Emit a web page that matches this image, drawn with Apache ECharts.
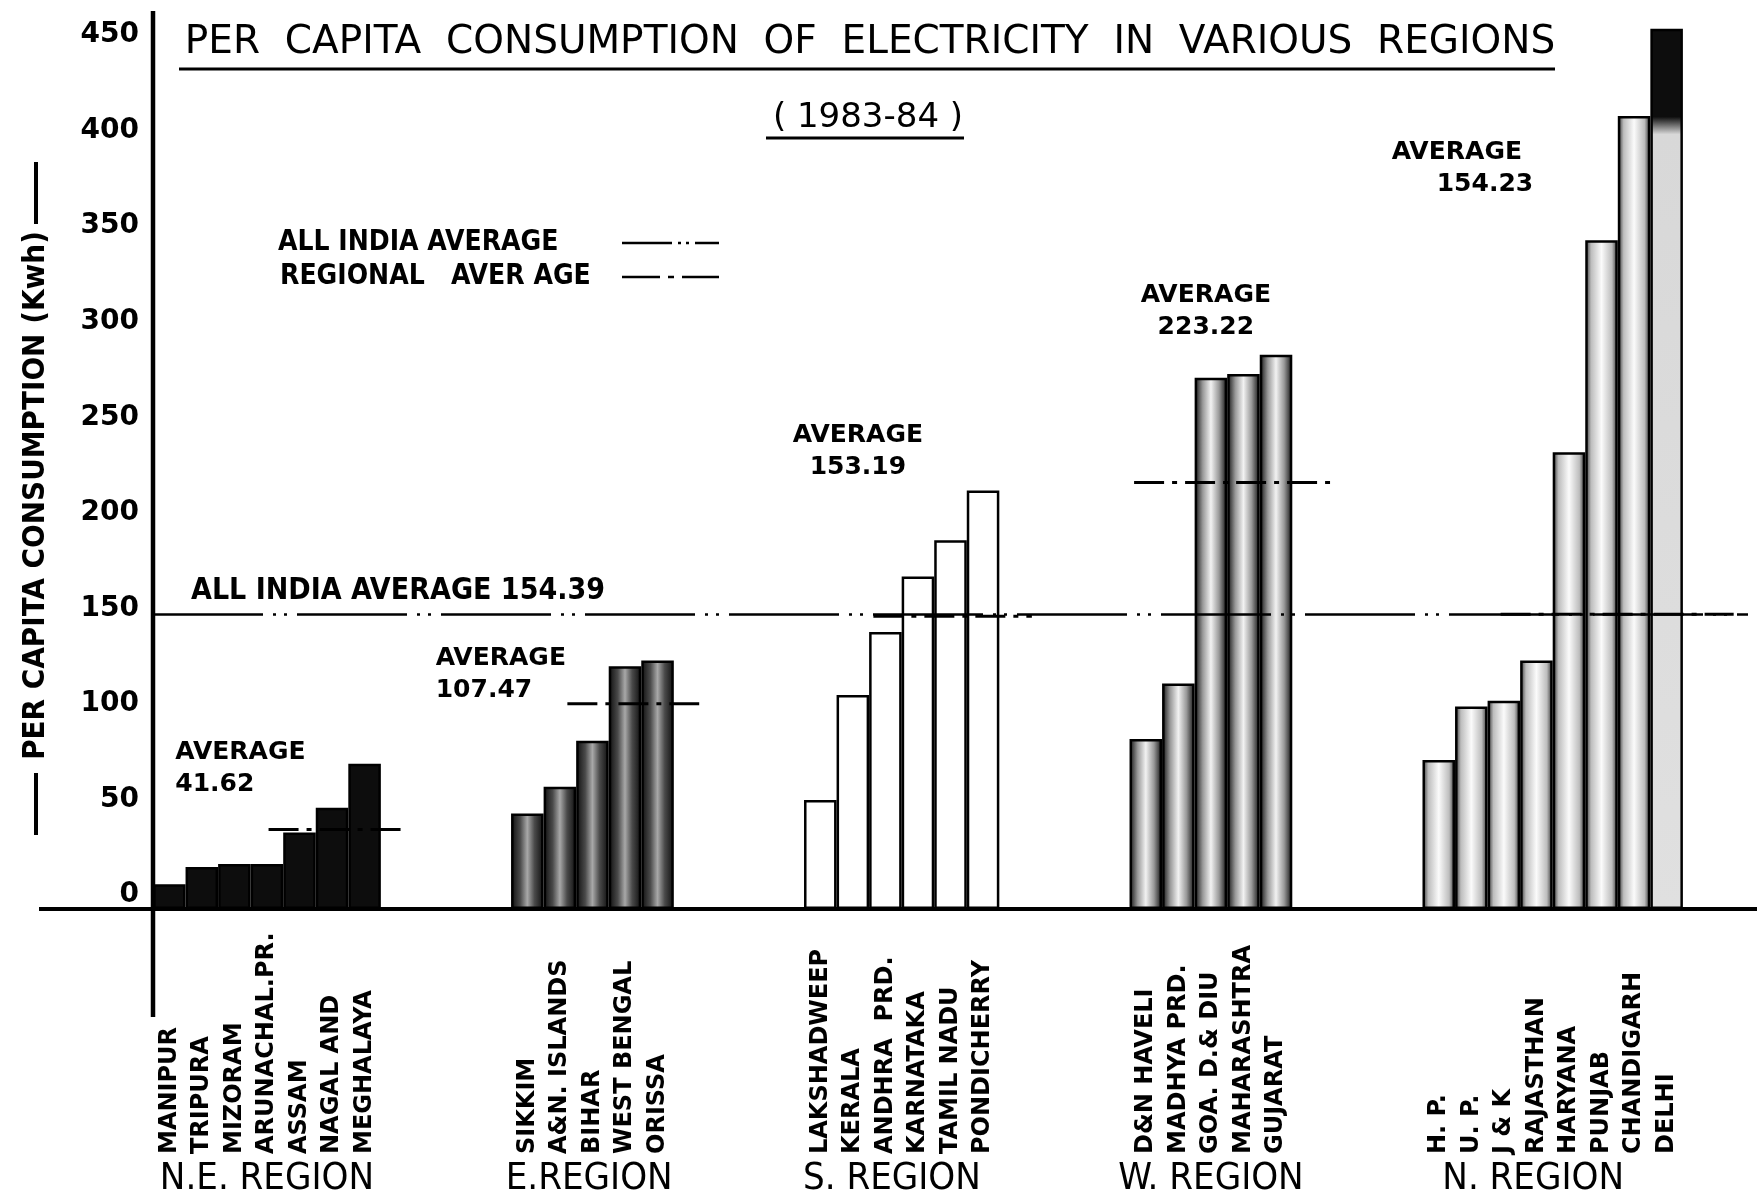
<!DOCTYPE html>
<html>
<head>
<meta charset="utf-8">
<title>Per capita consumption of electricity 1983-84</title>
<script src="https://cdn.jsdelivr.net/npm/echarts@6/dist/echarts.min.js"></script>
<style>
  html, body { margin: 0; padding: 0; background: #fff; }
  #main { width: 1757px; height: 1201px; }
</style>
</head>
<body>
<div id="main"></div>
<script>
// kWh per head
const neStates = ['MANIPUR', 'TRIPURA', 'MIZORAM', 'ARUNACHAL.PR.', 'ASSAM', 'NAGAL AND', 'MEGHALAYA'];
const neValues = [13, 22, 23.5, 23.5, 40, 53, 76];
const eStates = ['SIKKIM', 'A&N. ISLANDS', 'BIHAR', 'WEST BENGAL', 'ORISSA'];
const eValues = [50, 64, 88, 127, 130];
const sStates = ['LAKSHADWEEP', 'KERALA', 'ANDHRA  PRD.', 'KARNATAKA', 'TAMIL NADU', 'PONDICHERRY'];
const sValues = [57, 112, 145, 174, 193, 219];
const wStates = ['D&N HAVELI', 'MADHYA PRD.', 'GOA. D.& DIU', 'MAHARASHTRA', 'GUJARAT'];
const wValues = [89, 118, 278, 280, 290];
const nStates = ['H. P.', 'U. P.', 'J & K', 'RAJASTHAN', 'HARYANA', 'PUNJAB', 'CHANDIGARH', 'DELHI'];
const nValues = [78, 106, 109, 130, 239, 350, 415, 461];

const regionNames = ['N.E. REGION', 'E.REGION', 'S. REGION', 'W. REGION', 'N. REGION'];
const regionAverages = [41.62, 107.47, 153.19, 223.22, 154.23];
const allIndiaAverage = 154.39;

const yTickStep = 50;
const yMax = 460;

const SANS = "'DejaVu Sans', 'Liberation Sans', sans-serif";
const NARROW = "'Liberation Sans Narrow', 'DejaVu Sans Condensed', 'DejaVu Sans', sans-serif";

// layout: empty slots between regions, where the regional average dashes start / stop
const GAP = 4;
const avgSpan = [[3.55, 0.75], [1.73, 0.78], [2.13, 1.0], [0.14, 1.16], [2.4, 1.56]];
// average text anchor: slot offset from first bar, top value, alignment
const avgTextAt = [[0.2, 90, 'left'], [-2.8, 139, 'left'], [1.17, 256, 'center'], [1.86, 329, 'center'], [-1.43, 404, 'left']];
const regionNameShift = [0, -0.1, -0.3, 0, -0.6];

const allIndiaDash = [110, 10, 3, 8, 3, 10];
const regionalDash = [30, 8, 5, 8];

const groups = [[neStates, neValues], [eStates, eValues], [sStates, sValues], [wStates, wValues], [nStates, nValues]];
const categories = [], barValues = [], regionOf = [], regionStart = [], regionEnd = [];
let gapNo = 0;
function pushGap(n) {
  for (let k = 0; k < n; k++) {
    categories.push('_' + (gapNo++));
    barValues.push(null);
    regionOf.push(-1);
  }
}
groups.forEach(function (grp, r) {
  if (r > 0) pushGap(GAP);
  regionStart.push(categories.length);
  grp[0].forEach(function (name, i) {
    categories.push(name);
    barValues.push(grp[1][i]);
    regionOf.push(r);
  });
  regionEnd.push(categories.length - 1);
});
pushGap(2);
const N = categories.length;

function hGrad(stops) {
  return new echarts.graphic.LinearGradient(0, 0, 1, 0, stops.map(s => ({ offset: s[0], color: s[1] })));
}
const regionFill = [
  '#0d0d0d',
  hGrad([[0, '#0d0d0d'], [0.28, '#4a4a4a'], [0.5, '#a8a8a8'], [0.72, '#4a4a4a'], [1, '#0d0d0d']]),
  '#ffffff',
  hGrad([[0, '#0d0d0d'], [0.25, '#999'], [0.5, '#f2f2f2'], [0.75, '#999'], [1, '#0d0d0d']]),
  hGrad([[0, '#2a2a2a'], [0.18, '#bdbdbd'], [0.5, '#fbfbfb'], [0.82, '#bdbdbd'], [1, '#2a2a2a']])
];
const delhiFill = new echarts.graphic.LinearGradient(0, 0, 0, 1, [
  { offset: 0, color: '#0d0d0d' }, { offset: 0.1, color: '#0d0d0d' },
  { offset: 0.12, color: '#d8d8d8' }, { offset: 1, color: '#e0e0e0' }
]);

const barData = barValues.map(function (v, i) {
  if (v === null) return '-';
  return {
    value: v,
    itemStyle: {
      color: categories[i] === 'DELHI' ? delhiFill : regionFill[regionOf[i]],
      borderColor: '#000',
      borderWidth: 2.5
    }
  };
});

const avgLineSeries = regionAverages.map(function (avg, r) {
  return {
    type: 'line',
    name: 'REGIONAL AVERAGE',
    xAxisIndex: 1,
    symbol: 'none',
    silent: true,
    z: 5,
    lineStyle: { color: '#000', width: 3, type: regionalDash },
    data: [[regionStart[r] - 0.5 + avgSpan[r][0], avg], [regionEnd[r] + 0.5 + avgSpan[r][1], avg]]
  };
});

const avgTextData = regionAverages.map(function (avg, r) {
  const at = avgTextAt[r];
  const txt = r === 4 ? '{a|AVERAGE}\n{b|' + avg.toFixed(2) + '}' : '{a|AVERAGE}\n{a|' + avg.toFixed(2) + '}';
  return {
    value: [regionStart[r] + at[0], at[1]],
    label: { align: at[2], formatter: txt }
  };
});

const chart = echarts.init(document.getElementById('main'));

const textBase = { color: '#000', textBorderWidth: 0, opacity: 1 };

const option = {
  animation: false,
  backgroundColor: '#fff',
  grid: { left: 153, right: 9, top: 30, bottom: 292, outerBoundsMode: 'none' },
  xAxis: [{
    type: 'category',
    data: categories,
    axisLine: { show: false },
    axisTick: { show: false },
    axisLabel: {
      interval: 0,
      rotate: 90,
      align: 'left',
      verticalAlign: 'middle',
      margin: 245,
      fontSize: 24,
      fontWeight: 'bold',
      fontFamily: SANS,
      color: '#000',
      formatter: name => name.charAt(0) === '_' ? '' : name
    }
  }, {
    type: 'value',
    min: -0.5,
    max: N - 0.5,
    show: false
  }],
  yAxis: {
    type: 'value',
    min: 0,
    max: yMax,
    interval: yTickStep,
    axisLine: { show: false },
    axisTick: { show: false },
    splitLine: { show: false },
    axisLabel: {
      showMaxLabel: false,
      margin: 14,
      verticalAlign: 'bottom',
      fontSize: 28,
      fontWeight: 'bold',
      fontFamily: SANS,
      color: '#000'
    },
    name: 'PER CAPITA CONSUMPTION (Kwh)',
    nameLocation: 'middle',
    nameRotate: 90,
    nameGap: 102,
    nameTextStyle: {
      fontSize: 31,
      fontWeight: 'bold',
      fontFamily: NARROW,
      color: '#000',
      padding: [0, 52, 0, 0]
    }
  },
  series: [{
    type: 'bar',
    barCategoryGap: '0%',
    data: barData,
    z: 3,
    markLine: {
      silent: true,
      symbol: ['none', 'none'],
      lineStyle: { color: '#000', width: 2.5, type: allIndiaDash },
      label: {
        show: true,
        position: 'insideStartTop',
        distance: 8,
        padding: [0, 0, 0, 30],
        formatter: 'ALL INDIA AVERAGE ' + allIndiaAverage,
        fontSize: 30,
        fontFamily: NARROW,
        fontWeight: 'bold',
        color: '#000'
      },
      data: [{ yAxis: allIndiaAverage }]
    }
  }].concat(avgLineSeries, [{
    type: 'scatter',
    xAxisIndex: 1,
    symbolSize: 1,
    itemStyle: { color: 'rgba(0,0,0,0)', opacity: 1 },
    silent: true,
    data: avgTextData,
    label: Object.assign({
      show: true,
      position: [0, 0],
      verticalAlign: 'top',
      rich: {
        a: Object.assign({ fontSize: 25, fontWeight: 'bold', fontFamily: SANS, lineHeight: 32 }, textBase),
        b: Object.assign({ fontSize: 25, fontWeight: 'bold', fontFamily: SANS, lineHeight: 32, padding: [0, 0, 0, 45] }, textBase)
      }
    }, textBase)
  }])
};

chart.setOption(option);

// axis lines, titles, legend and region names placed from the axes
const x0 = chart.convertToPixel({ xAxisIndex: 1 }, -0.5);
const y0 = chart.convertToPixel({ yAxisIndex: 0 }, 0);
const graphics = [
  { type: 'line', z: 20, shape: { x1: 39, y1: y0, x2: 1757, y2: y0 }, style: { stroke: '#000', lineWidth: 4 } },
  { type: 'line', z: 20, shape: { x1: x0, y1: 11, x2: x0, y2: 1017 }, style: { stroke: '#000', lineWidth: 4.5 } },
  // the rules either side of the y axis name
  { type: 'line', z: 20, shape: { x1: 36, y1: 162, x2: 36, y2: 224 }, style: { stroke: '#000', lineWidth: 4 } },
  { type: 'line', z: 20, shape: { x1: 36, y1: 773, x2: 36, y2: 835 }, style: { stroke: '#000', lineWidth: 4 } },
  {
    type: 'text', x: 870, y: 43, z: 20,
    style: { text: 'PER  CAPITA  CONSUMPTION  OF  ELECTRICITY  IN  VARIOUS  REGIONS', fontSize: 39, fontFamily: SANS, fill: '#000', align: 'center', verticalAlign: 'middle' }
  },
  { type: 'line', z: 20, shape: { x1: 179, y1: 69, x2: 1555, y2: 69 }, style: { stroke: '#000', lineWidth: 3 } },
  {
    type: 'text', x: 868, y: 118, z: 20,
    style: { text: '( 1983-84 )', fontSize: 34, fontFamily: SANS, fill: '#000', align: 'center', verticalAlign: 'middle' }
  },
  { type: 'line', z: 20, shape: { x1: 766, y1: 138, x2: 964, y2: 138 }, style: { stroke: '#000', lineWidth: 3 } },
  {
    type: 'text', x: 278, y: 243, z: 20,
    style: { text: 'ALL INDIA AVERAGE', fontSize: 28, fontWeight: 'bold', fontFamily: NARROW, fill: '#000', align: 'left', verticalAlign: 'middle' }
  },
  {
    type: 'text', x: 280, y: 277, z: 20,
    style: { text: 'REGIONAL   AVER AGE', fontSize: 28, fontWeight: 'bold', fontFamily: NARROW, fill: '#000', align: 'left', verticalAlign: 'middle' }
  },
  { type: 'line', z: 20, shape: { x1: 622, y1: 243, x2: 719, y2: 243 }, style: { stroke: '#000', lineWidth: 2.5, lineDash: [50, 6, 3, 5, 3, 6] } },
  { type: 'line', z: 20, shape: { x1: 622, y1: 277, x2: 719, y2: 277 }, style: { stroke: '#000', lineWidth: 2.5, lineDash: [38, 8, 6, 8] } }
];
regionNames.forEach(function (name, r) {
  const cx = chart.convertToPixel({ xAxisIndex: 1 }, (regionStart[r] + regionEnd[r]) / 2 + regionNameShift[r]);
  graphics.push({
    type: 'text', x: cx, y: y0 + 270, z: 20,
    style: { text: name, fontSize: 38, fontFamily: NARROW, fill: '#000', align: 'center', verticalAlign: 'middle' }
  });
});
chart.setOption({ graphic: graphics });

window.onresize = () => {
  chart.resize();
};
</script>
</body>
</html>
